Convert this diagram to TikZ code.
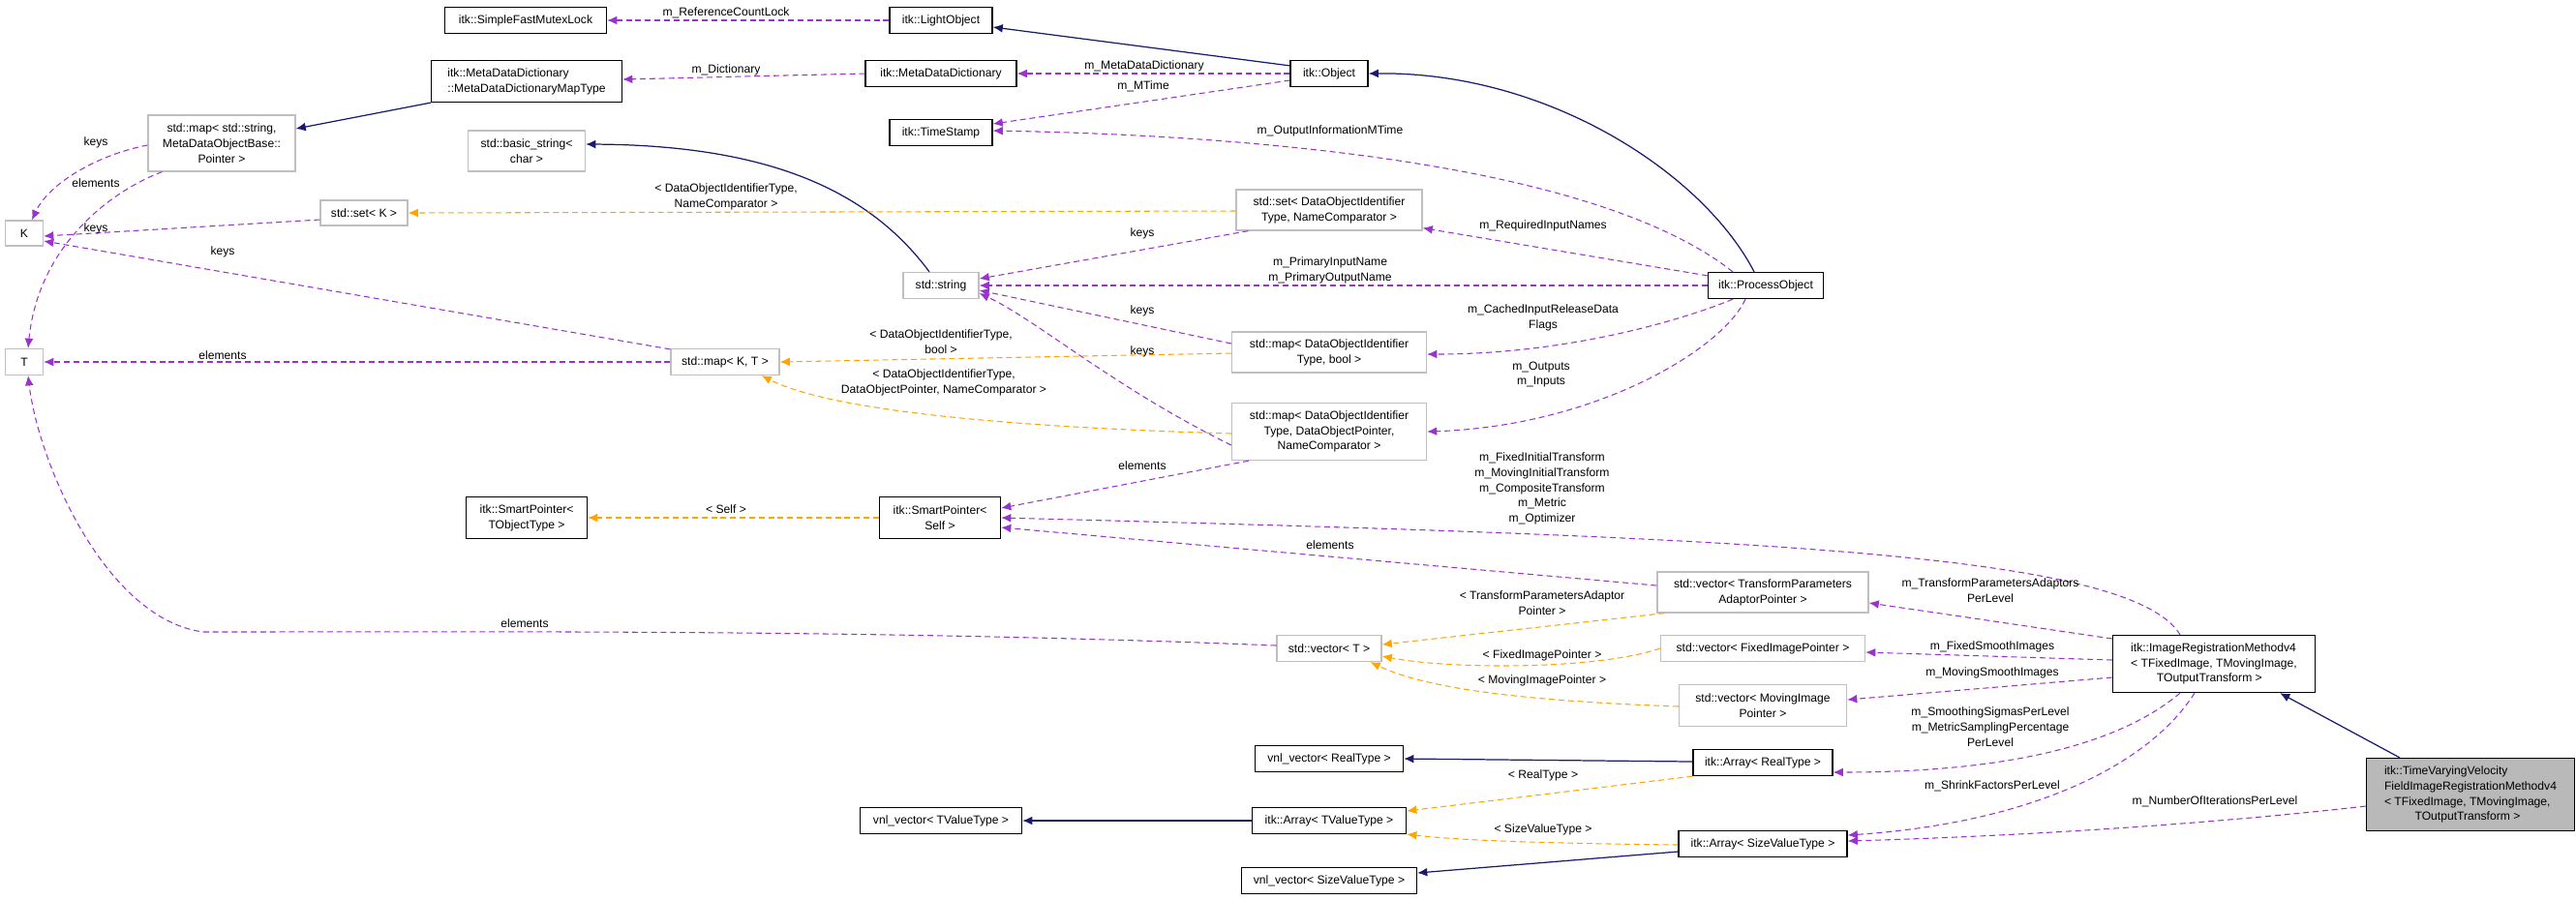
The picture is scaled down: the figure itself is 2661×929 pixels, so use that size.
\documentclass[tikz,border=0pt]{standalone}
\usepackage{fontspec}
\setmainfont{Liberation Sans}
\usetikzlibrary{arrows.meta,calc}
\definecolor{purp}{HTML}{9A32CD}
\definecolor{orng}{HTML}{FFA500}
\definecolor{navy}{HTML}{191970}
\definecolor{gbord}{HTML}{BFBFBF}
\begin{document}
\begin{tikzpicture}[x=0.01cm,y=-0.01cm,
  font=\fontsize{3.45}{4.5}\selectfont,
  wh/.style 2 args={minimum width=#1*0.01cm, minimum height=#2*0.01cm},
  bx/.style={draw=black, line width=0.35pt, inner sep=0pt, align=center, fill=white},
  gbx/.style={draw=gbord, line width=0.35pt, inner sep=0pt, align=center, fill=white},
  lbl/.style={inner sep=0pt, align=center},
  tip/.style={-{Latex[length=2.9pt,width=2.5pt]}},
  mem/.style={tip, draw=purp, line width=0.3pt, dash pattern=on 1.7pt off 1.1pt},
  tpl/.style={tip, draw=orng, line width=0.3pt, dash pattern=on 1.7pt off 1.1pt},
  inh/.style={tip, draw=navy, line width=0.35pt}]
\useasboundingbox (0,0) rectangle (2661,929);
% nodes
\node[bx,wh={167}{27}] (sfml) at (543,21) {itk::SimpleFastMutexLock};
\node[bx,wh={106}{27}] (lobj) at (972,21) {itk::LightObject};
\node[bx,wh={197}{43},align=left] (mapt) at (544,84) {itk::MetaDataDictionary\\::MetaDataDictionaryMapType};
\node[bx,wh={156}{27}] (mdd) at (972,76) {itk::MetaDataDictionary};
\node[bx,wh={80}{27}] (obj) at (1373,76) {itk::Object};
\node[bx,wh={106}{27}] (ts) at (972,137) {itk::TimeStamp};
\node[gbx,wh={152}{58}] (mapsm) at (229,148) {std::map< std::string,\\ MetaDataObjectBase::\\Pointer >};
\node[gbx,wh={121}{42}] (bstr) at (544,156) {std::basic\_string<\\ char >};
\node[gbx,wh={90}{26}] (setk) at (376,220) {std::set< K >};
\node[gbx,wh={192}{42}] (setd) at (1373,217) {std::set< DataObjectIdentifier\\Type, NameComparator >};
\node[gbx,wh={39}{26}] (K) at (25,241) {K};
\node[gbx,wh={39}{27}] (T) at (25,374) {T};
\node[gbx,wh={78}{27}] (str) at (972,295) {std::string};
\node[bx,wh={119}{27}] (po) at (1824,295) {itk::ProcessObject};
\node[gbx,wh={201}{42}] (mapb) at (1373,364) {std::map< DataObjectIdentifier\\Type, bool >};
\node[gbx,wh={112}{27}] (mapkt) at (749,374) {std::map< K, T >};
\node[gbx,wh={201}{59}] (mapd) at (1373,446) {std::map< DataObjectIdentifier\\Type, DataObjectPointer,\\NameComparator >};
\node[bx,wh={125}{43}] (spt) at (544,535) {itk::SmartPointer<\\ TObjectType >};
\node[bx,wh={125}{43}] (sps) at (971,535) {itk::SmartPointer<\\ Self >};
\node[gbx,wh={218}{42}] (vtpa) at (1821,612) {std::vector< TransformParameters\\AdaptorPointer >};
\node[gbx,wh={108}{27}] (vt) at (1373,670) {std::vector< T >};
\node[gbx,wh={211}{27}] (vfip) at (1821,670) {std::vector< FixedImagePointer >};
\node[gbx,wh={173}{43}] (vmip) at (1821,729) {std::vector< MovingImage\\Pointer >};
\node[bx,wh={209}{59},align=left] (ir) at (2287,686) {itk::ImageRegistrationMethodv4\\< TFixedImage, TMovingImage,\\\hspace*{2.2em}TOutputTransform >};
\node[bx,wh={153}{27}] (vnlr) at (1373,784) {vnl\_vector< RealType >};
\node[bx,wh={144}{27}] (arr) at (1821,788) {itk::Array< RealType >};
\node[bx,wh={167}{27}] (vnlt) at (972,848) {vnl\_vector< TValueType >};
\node[bx,wh={159}{27}] (art) at (1373,848) {itk::Array< TValueType >};
\node[bx,wh={174}{27}] (ars) at (1821,872) {itk::Array< SizeValueType >};
\node[bx,wh={181}{27}] (vnls) at (1373,910) {vnl\_vector< SizeValueType >};
\node[bx,wh={215}{75},fill=gray!55,align=left] (tv) at (2552,821) {itk::TimeVaryingVelocity\\FieldImageRegistrationMethodv4\\< TFixedImage, TMovingImage,\\\hspace*{2.6em}TOutputTransform >};
% edges
\draw[mem] (lobj.west) -- (sfml.east);
\draw[inh] ($(obj.north west)+(0,6)$) -- ($(lobj.east)+(0,7)$);
\draw[mem] (mdd.west) -- ($(mapt.east)+(0,-2)$);
\draw[inh] (mapt.south west) -- ($(mapsm.east)+(0,-15)$);
\draw[mem] (obj.west) -- (mdd.east);
\draw[mem] ($(obj.west)+(0,7)$) -- ($(ts.east)+(0,-9)$);
\draw[mem] ($(po.north)+(-34,0)$) .. controls (1650,170) and (1300,140) .. ($(ts.east)+(0,-2)$);
\draw[inh] ($(po.north)+(-12,0)$) .. controls (1760,180) and (1600,74) .. (obj.east);
\draw[inh] ($(str.north)+(-12,0)$) .. controls (900,200) and (800,150) .. ($(bstr.east)+(0,-7)$);
\draw[mem] ($(mapsm.west)+(0,2)$) .. controls (100,160) and (50,190) .. ($(K.north)+(8,0)$);
\draw[mem] ($(mapsm.south west)+(15,0)$) .. controls (120,195) and (40,250) .. ($(T.north)+(4,0)$);
\draw[mem] ($(setk.west)+(0,7)$) -- ($(K.east)+(0,3)$);
\draw[mem] ($(mapkt.north west)+(0,1)$) -- ($(K.east)+(0,8)$);
\draw[mem] (mapkt.west) -- (T.east);
\draw[tpl] ($(setd.west)+(0,1)$) -- (setk.east);
\draw[mem] ($(setd.south west)+(13,0)$) -- ($(str.east)+(0,-7)$);
\draw[mem] ($(po.north west)+(0,4)$) -- ($(setd.south east)+(0,-3)$);
\draw[mem] (po.west) -- (str.east);
\draw[mem] ($(mapb.west)+(0,-9)$) -- ($(str.east)+(0,5)$);
\draw[mem] ($(po.south)+(-34,0)$) .. controls (1740,330) and (1620,366) .. ($(mapb.east)+(0,2)$);
\draw[tpl] ($(mapb.west)+(0,1)$) -- (mapkt.east);
\draw[mem] ($(mapd.west)+(0,14)$) .. controls (1150,400) and (1070,330) .. ($(str.east)+(0,8)$);
\draw[tpl] ($(mapd.west)+(0,2)$) .. controls (1000,440) and (850,420) .. ($(mapkt.south east)+(-19,0)$);
\draw[mem] ($(po.south)+(-21,0)$) .. controls (1780,360) and (1650,440) .. (mapd.east);
\draw[mem] ($(mapd.south west)+(18,0)$) -- ($(sps.east)+(0,-10)$);
\draw[tpl] (sps.west) -- (spt.east);
\draw[mem] ($(ir.north)+(-35,0)$) .. controls (2200,570) and (1800,555) .. (sps.east);
\draw[mem] ($(vtpa.west)+(0,-7)$) -- ($(sps.east)+(0,10)$);
\draw[mem] ($(ir.west)+(0,-26)$) -- ($(vtpa.east)+(0,11)$);
\draw[tpl] ($(vtpa.south west)+(8,0)$) -- ($(vt.east)+(0,-4)$);
\draw[mem] ($(vt.west)+(0,-3)$) .. controls (900,650) and (500,653) .. (210,653) .. controls (110,640) and (40,480) .. ($(T.south)+(4,0)$);
\draw[tpl] (vfip.west) .. controls (1650,692) and (1500,692) .. ($(vt.east)+(0,8)$);
\draw[mem] ($(ir.west)+(0,-4)$) -- ($(vfip.east)+(0,4)$);
\draw[tpl] ($(vmip.west)+(0,1)$) .. controls (1600,725) and (1480,715) .. ($(vt.south east)+(-12,0)$);
\draw[mem] ($(ir.west)+(0,14)$) -- ($(vmip.east)+(0,-6)$);
\draw[inh] ($(arr.west)+(0,-1)$) -- (vnlr.east);
\draw[tpl] (arr.south west) -- ($(art.east)+(0,-10)$);
\draw[mem] ($(ir.south)+(-35,0)$) .. controls (2200,760) and (2100,798) .. ($(arr.east)+(0,10)$);
\draw[inh] (art.west) -- (vnlt.east);
\draw[tpl] ($(ars.west)+(0,1)$) .. controls (1650,872) and (1520,870) .. ($(art.east)+(0,14)$);
\draw[inh] ($(ars.west)+(0,8)$) -- ($(vnls.east)+(0,-8)$);
\draw[mem] ($(ir.south)+(-20,0)$) .. controls (2220,790) and (2100,850) .. ($(ars.east)+(0,-9)$);
\draw[mem] ($(tv.west)+(0,12)$) .. controls (2250,855) and (2050,865) .. ($(ars.east)+(0,-3)$);
\draw[inh] ($(tv.north west)+(35,0)$) -- ($(ir.south east)+(-37,0)$);
% labels
\node[lbl] (l1) at (750,13) {m\_ReferenceCountLock};
\node[lbl] (l2) at (750,72) {m\_Dictionary};
\node[lbl] (l3) at (1182,68) {m\_MetaDataDictionary};
\node[lbl] (l4) at (1181,89) {m\_MTime};
\node[lbl] (l5) at (1374,135) {m\_OutputInformationMTime};
\node[lbl] (l6) at (99,147) {keys};
\node[lbl] (l7) at (99,189) {elements};
\node[lbl] (l8) at (99,236) {keys};
\node[lbl] (l9) at (230,260) {keys};
\node[lbl] (l10) at (230,367) {elements};
\node[lbl] (l11) at (750,203) {< DataObjectIdentifierType,\\NameComparator >};
\node[lbl] (l12) at (1180,241) {keys};
\node[lbl] (l13) at (1594,233) {m\_RequiredInputNames};
\node[lbl] (l14) at (1374,279) {m\_PrimaryInputName\\m\_PrimaryOutputName};
\node[lbl] (l15) at (1180,321) {keys};
\node[lbl] (l16) at (1594,328) {m\_CachedInputReleaseData\\Flags};
\node[lbl] (l17) at (972,353) {< DataObjectIdentifierType,\\bool >};
\node[lbl] (l18) at (1180,363) {keys};
\node[lbl] (l19) at (975,395) {< DataObjectIdentifierType,\\DataObjectPointer, NameComparator >};
\node[lbl] (l20) at (1592,387) {m\_Outputs\\m\_Inputs};
\node[lbl] (l21) at (1180,481) {elements};
\node[lbl] (l22) at (750,526) {< Self >};
\node[lbl] (l23) at (1593,505) {m\_FixedInitialTransform\\m\_MovingInitialTransform\\m\_CompositeTransform\\m\_Metric\\m\_Optimizer};
\node[lbl] (l24) at (1374,563) {elements};
\node[lbl] (l25) at (2056,610) {m\_TransformParametersAdaptors\\PerLevel};
\node[lbl] (l26) at (1593,623) {< TransformParametersAdaptor\\Pointer >};
\node[lbl] (l27) at (542,644) {elements};
\node[lbl] (l28) at (1593,677) {< FixedImagePointer >};
\node[lbl] (l29) at (2058,668) {m\_FixedSmoothImages};
\node[lbl] (l30) at (1593,703) {< MovingImagePointer >};
\node[lbl] (l31) at (2058,695) {m\_MovingSmoothImages};
\node[lbl] (l32) at (1594,801) {< RealType >};
\node[lbl] (l33) at (2056,751) {m\_SmoothingSigmasPerLevel\\m\_MetricSamplingPercentage\\PerLevel};
\node[lbl] (l34) at (1594,857) {< SizeValueType >};
\node[lbl] (l35) at (2058,812) {m\_ShrinkFactorsPerLevel};
\node[lbl] (l36) at (2288,828) {m\_NumberOfIterationsPerLevel};
\end{tikzpicture}
\end{document}
